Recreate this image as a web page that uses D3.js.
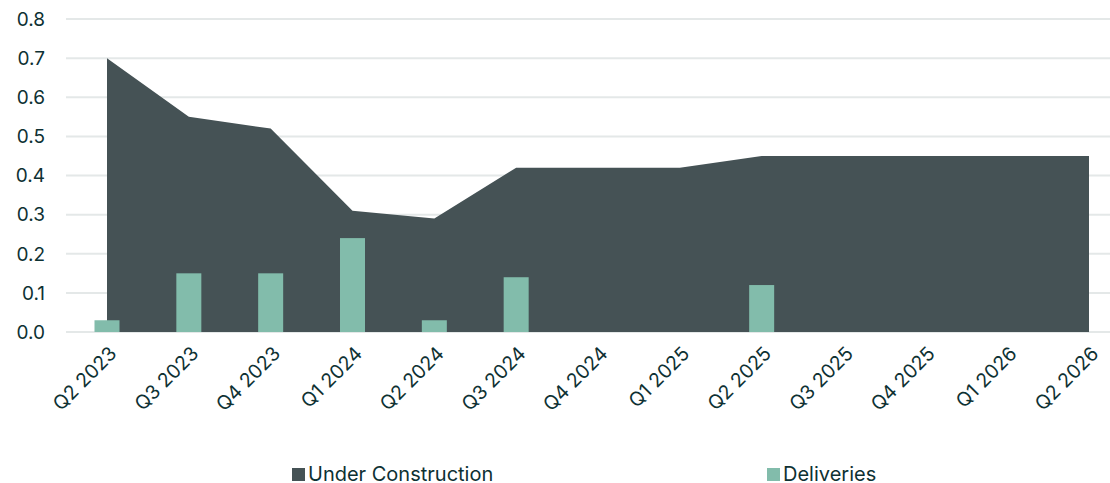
<!DOCTYPE html>
<html>
<head>
<meta charset="utf-8">
<script src="https://cdn.jsdelivr.net/npm/d3@7"></script>
<style>
  body { margin: 0; background: #fff; }
  svg { display: block; font-family: Inter, "Open Sans", sans-serif; }
</style>
</head>
<body>
<svg id="chart" width="1110" height="483"></svg>
<script>
// quarters along the x axis
const quarters = ["Q2 2023", "Q3 2023", "Q4 2023", "Q1 2024", "Q2 2024", "Q3 2024", "Q4 2024",
  "Q1 2025", "Q2 2025", "Q3 2025", "Q4 2025", "Q1 2026", "Q2 2026"]
const underConstruction = [0.70, 0.55, 0.52, 0.31, 0.29, 0.42, 0.42, 0.42, 0.45, 0.45, 0.45, 0.45, 0.45]
const deliveries = [0.03, 0.15, 0.15, 0.24, 0.03, 0.14, 0, 0, 0.12, 0, 0, 0, 0]
const yTicks = [0, 0.1, 0.2, 0.3, 0.4, 0.5, 0.6, 0.7, 0.8]

const textColor = "#0e3133"
const areaColor = "#455255"
const barColor = "#82bcab"

const svg = d3.select("#chart")
const margin = {top: 19, right: 21, bottom: 151, left: 66}
const width = 1110
const height = 483
const innerHeight = height - margin.top - margin.bottom

const xScale = d3.scalePoint()
  .domain(quarters)
  .range([107, 1089])

const yScale = d3.scaleLinear()
  .domain([0, 0.8])
  .range([margin.top + innerHeight, margin.top])

// gridlines
svg.append("g")
  .selectAll("line")
  .data(yTicks)
  .enter().append("line")
  .attr("x1", margin.left)
  .attr("x2", width)
  .attr("y1", d => yScale(d))
  .attr("y2", d => yScale(d))
  .attr("stroke", "#e4e8e8")
  .attr("stroke-width", 2)

// y labels
svg.append("g")
  .selectAll("text")
  .data(yTicks)
  .enter().append("text")
  .attr("x", 45)
  .attr("y", d => yScale(d))
  .attr("dy", "0.36em")
  .attr("text-anchor", "end")
  .attr("font-size", 19)
  .attr("fill", textColor)
  .text(d => d.toFixed(1))

const ucData = quarters.map((q, i) => ({q, v: underConstruction[i]}))

const area = d3.area()
  .x(d => xScale(d.q))
  .y0(yScale(0))
  .y1(d => yScale(d.v))

svg.append("path")
  .datum(ucData)
  .attr("d", area)
  .attr("fill", areaColor)

const barWidth = 25
svg.append("g")
  .selectAll("rect")
  .data(quarters.map((q, i) => ({q, v: deliveries[i]})).filter(d => d.v > 0))
  .enter().append("rect")
  .attr("x", d => xScale(d.q) - barWidth / 2)
  .attr("width", barWidth)
  .attr("y", d => yScale(d.v))
  .attr("height", d => yScale(0) - yScale(d.v))
  .attr("fill", barColor)

// x labels
svg.append("g")
  .selectAll("text")
  .data(quarters)
  .enter().append("text")
  .attr("transform", d => `translate(${xScale(d) + 6},${yScale(0) + 18}) rotate(-45)`)
  .attr("text-anchor", "end")
  .attr("dy", "0.35em")
  .attr("font-size", 19.5)
  .attr("fill", textColor)
  .text(d => d)

// legend
const legendItems = [
  {label: "Under Construction", color: areaColor, x: 292},
  {label: "Deliveries", color: barColor, x: 767}
]
const legend = svg.append("g")
  .selectAll("g")
  .data(legendItems)
  .enter().append("g")
  .attr("transform", d => `translate(${d.x},481)`)

legend.append("rect")
  .attr("x", 0)
  .attr("y", -13)
  .attr("width", 13)
  .attr("height", 13)
  .attr("fill", d => d.color)

legend.append("text")
  .attr("x", 16)
  .attr("font-size", 20)
  .attr("fill", textColor)
  .text(d => d.label)
</script>
</body>
</html>
